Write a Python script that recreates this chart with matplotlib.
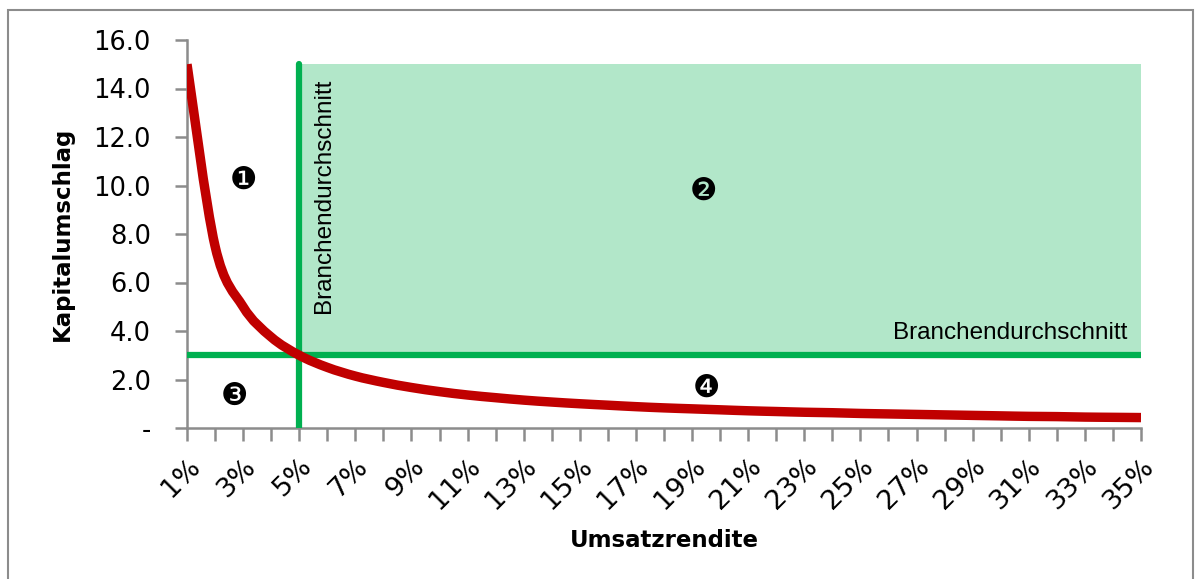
import matplotlib
matplotlib.use("Agg")
import matplotlib.pyplot as plt
from matplotlib.patches import Rectangle, PathPatch
from matplotlib.path import Path

# Umsatzrendite categories (1% .. 35%) and the matching Kapitalumschlag
rendite_pct = list(range(1, 36))
kapitalumschlag = [
    15.00, 7.50, 5.00, 3.75, 3.00, 2.50, 2.14, 1.88, 1.67, 1.50,
    1.36, 1.25, 1.15, 1.07, 1.00, 0.94, 0.88, 0.83, 0.79, 0.75,
    0.71, 0.68, 0.65, 0.63, 0.60, 0.58, 0.56, 0.54, 0.52, 0.50,
    0.48, 0.47, 0.45, 0.44, 0.43,
]
x_labels = [f"{p}%" for p in rendite_pct]
y_ticks = [0, 2, 4, 6, 8, 10, 12, 14, 16]
y_tick_labels = ["-", "2.0", "4.0", "6.0", "8.0", "10.0", "12.0", "14.0", "16.0"]

# industry benchmark
branche_rendite = 5      # %
branche_umschlag = 3.0
zone_top = 15.0

quadrant_marks = ["\u2776", "\u2777", "\u2778", "\u2779"]
quadrant_pos = [(3.0, 10.2), (19.4, 9.75), (2.7, 1.3), (19.5, 1.65)]

RED = "#C00000"
GREEN = "#00B050"
FILL = "#B2E7C9"
GRAY = "#8C8C8C"


def smooth_path(xs, ys):
    """Cubic Bezier path through the points (smoothed line, Catmull-Rom tangents)."""
    pts = list(zip(xs, ys))
    n = len(pts)
    verts = [pts[0]]
    codes = [Path.MOVETO]
    for i in range(n - 1):
        p0 = pts[max(i - 1, 0)]
        p1 = pts[i]
        p2 = pts[i + 1]
        p3 = pts[min(i + 2, n - 1)]
        c1 = (p1[0] + (p2[0] - p0[0]) / 6, p1[1] + (p2[1] - p0[1]) / 6)
        c2 = (p2[0] - (p3[0] - p1[0]) / 6, p2[1] - (p3[1] - p1[1]) / 6)
        verts += [c1, c2, p2]
        codes += [Path.CURVE4] * 3
    return Path(verts, codes)


fig = plt.figure(figsize=(11.96, 5.79), dpi=100)
ax = fig.add_axes([187 / 1196, 1 - 428 / 579, (1141 - 187) / 1196, (428 - 40) / 579])

# figure frame
fig.patches.append(Rectangle((8 / 1196, -0.01), (1193 - 8) / 1196, 1 - 10 / 579 + 0.01,
                             transform=fig.transFigure, fill=False,
                             edgecolor=GRAY, linewidth=1.5))

# shaded target zone
ax.add_patch(Rectangle((branche_rendite, branche_umschlag),
                       rendite_pct[-1] - branche_rendite, zone_top - branche_umschlag,
                       facecolor=FILL, edgecolor="none", zorder=1))

# benchmark lines
ax.plot([rendite_pct[0], rendite_pct[-1]], [branche_umschlag, branche_umschlag],
        color=GREEN, lw=4.5, solid_capstyle="butt", zorder=3)
ax.plot([branche_rendite, branche_rendite], [0, zone_top],
        color=GREEN, lw=4.5, solid_capstyle="round", zorder=3)

# iso-ROI curve (smoothed)
ax.add_patch(PathPatch(smooth_path(rendite_pct, kapitalumschlag), facecolor="none",
                       edgecolor=RED, lw=6.8, capstyle="butt", joinstyle="round",
                       zorder=4))

label_font = ["Liberation Sans", "DejaVu Sans"]
ax.text(branche_rendite + 0.9, 14.42, "Branchendurchschnitt", rotation=90,
        ha="center", va="top", fontsize=17.5, family=label_font, zorder=5)
ax.text(34.5, branche_umschlag + 0.45, "Branchendurchschnitt",
        ha="right", va="bottom", fontsize=17.5, family=label_font, zorder=5)

for mark, (mx, my) in zip(quadrant_marks, quadrant_pos):
    ax.text(mx, my, mark, ha="center", va="center", fontsize=22,
            family="DejaVu Sans", zorder=5)

ax.set_xlim(rendite_pct[0], rendite_pct[-1])
ax.set_ylim(0, 16)
ax.set_xticks(rendite_pct)
ax.set_xticklabels([lbl if i % 2 == 0 else "" for i, lbl in enumerate(x_labels)],
                   rotation=45, ha="right", rotation_mode="anchor", fontsize=19.5)
ax.set_yticks(y_ticks)
ax.set_yticklabels(y_tick_labels, fontsize=18.5)

for side in ("top", "right"):
    ax.spines[side].set_visible(False)
for side in ("left", "bottom"):
    ax.spines[side].set_color(GRAY)
    ax.spines[side].set_linewidth(1.8)
ax.tick_params(axis="both", colors=GRAY, width=1.8, length=9, labelcolor="black")
ax.tick_params(axis="x", pad=9)
ax.tick_params(axis="y", pad=17)

ax.set_ylabel("Kapitalumschlag", fontsize=16.5, fontweight="bold", labelpad=14)
ax.set_xlabel("Umsatzrendite", fontsize=16.5, fontweight="bold", labelpad=11)

fig.savefig("out.png", dpi=100, facecolor="white")
